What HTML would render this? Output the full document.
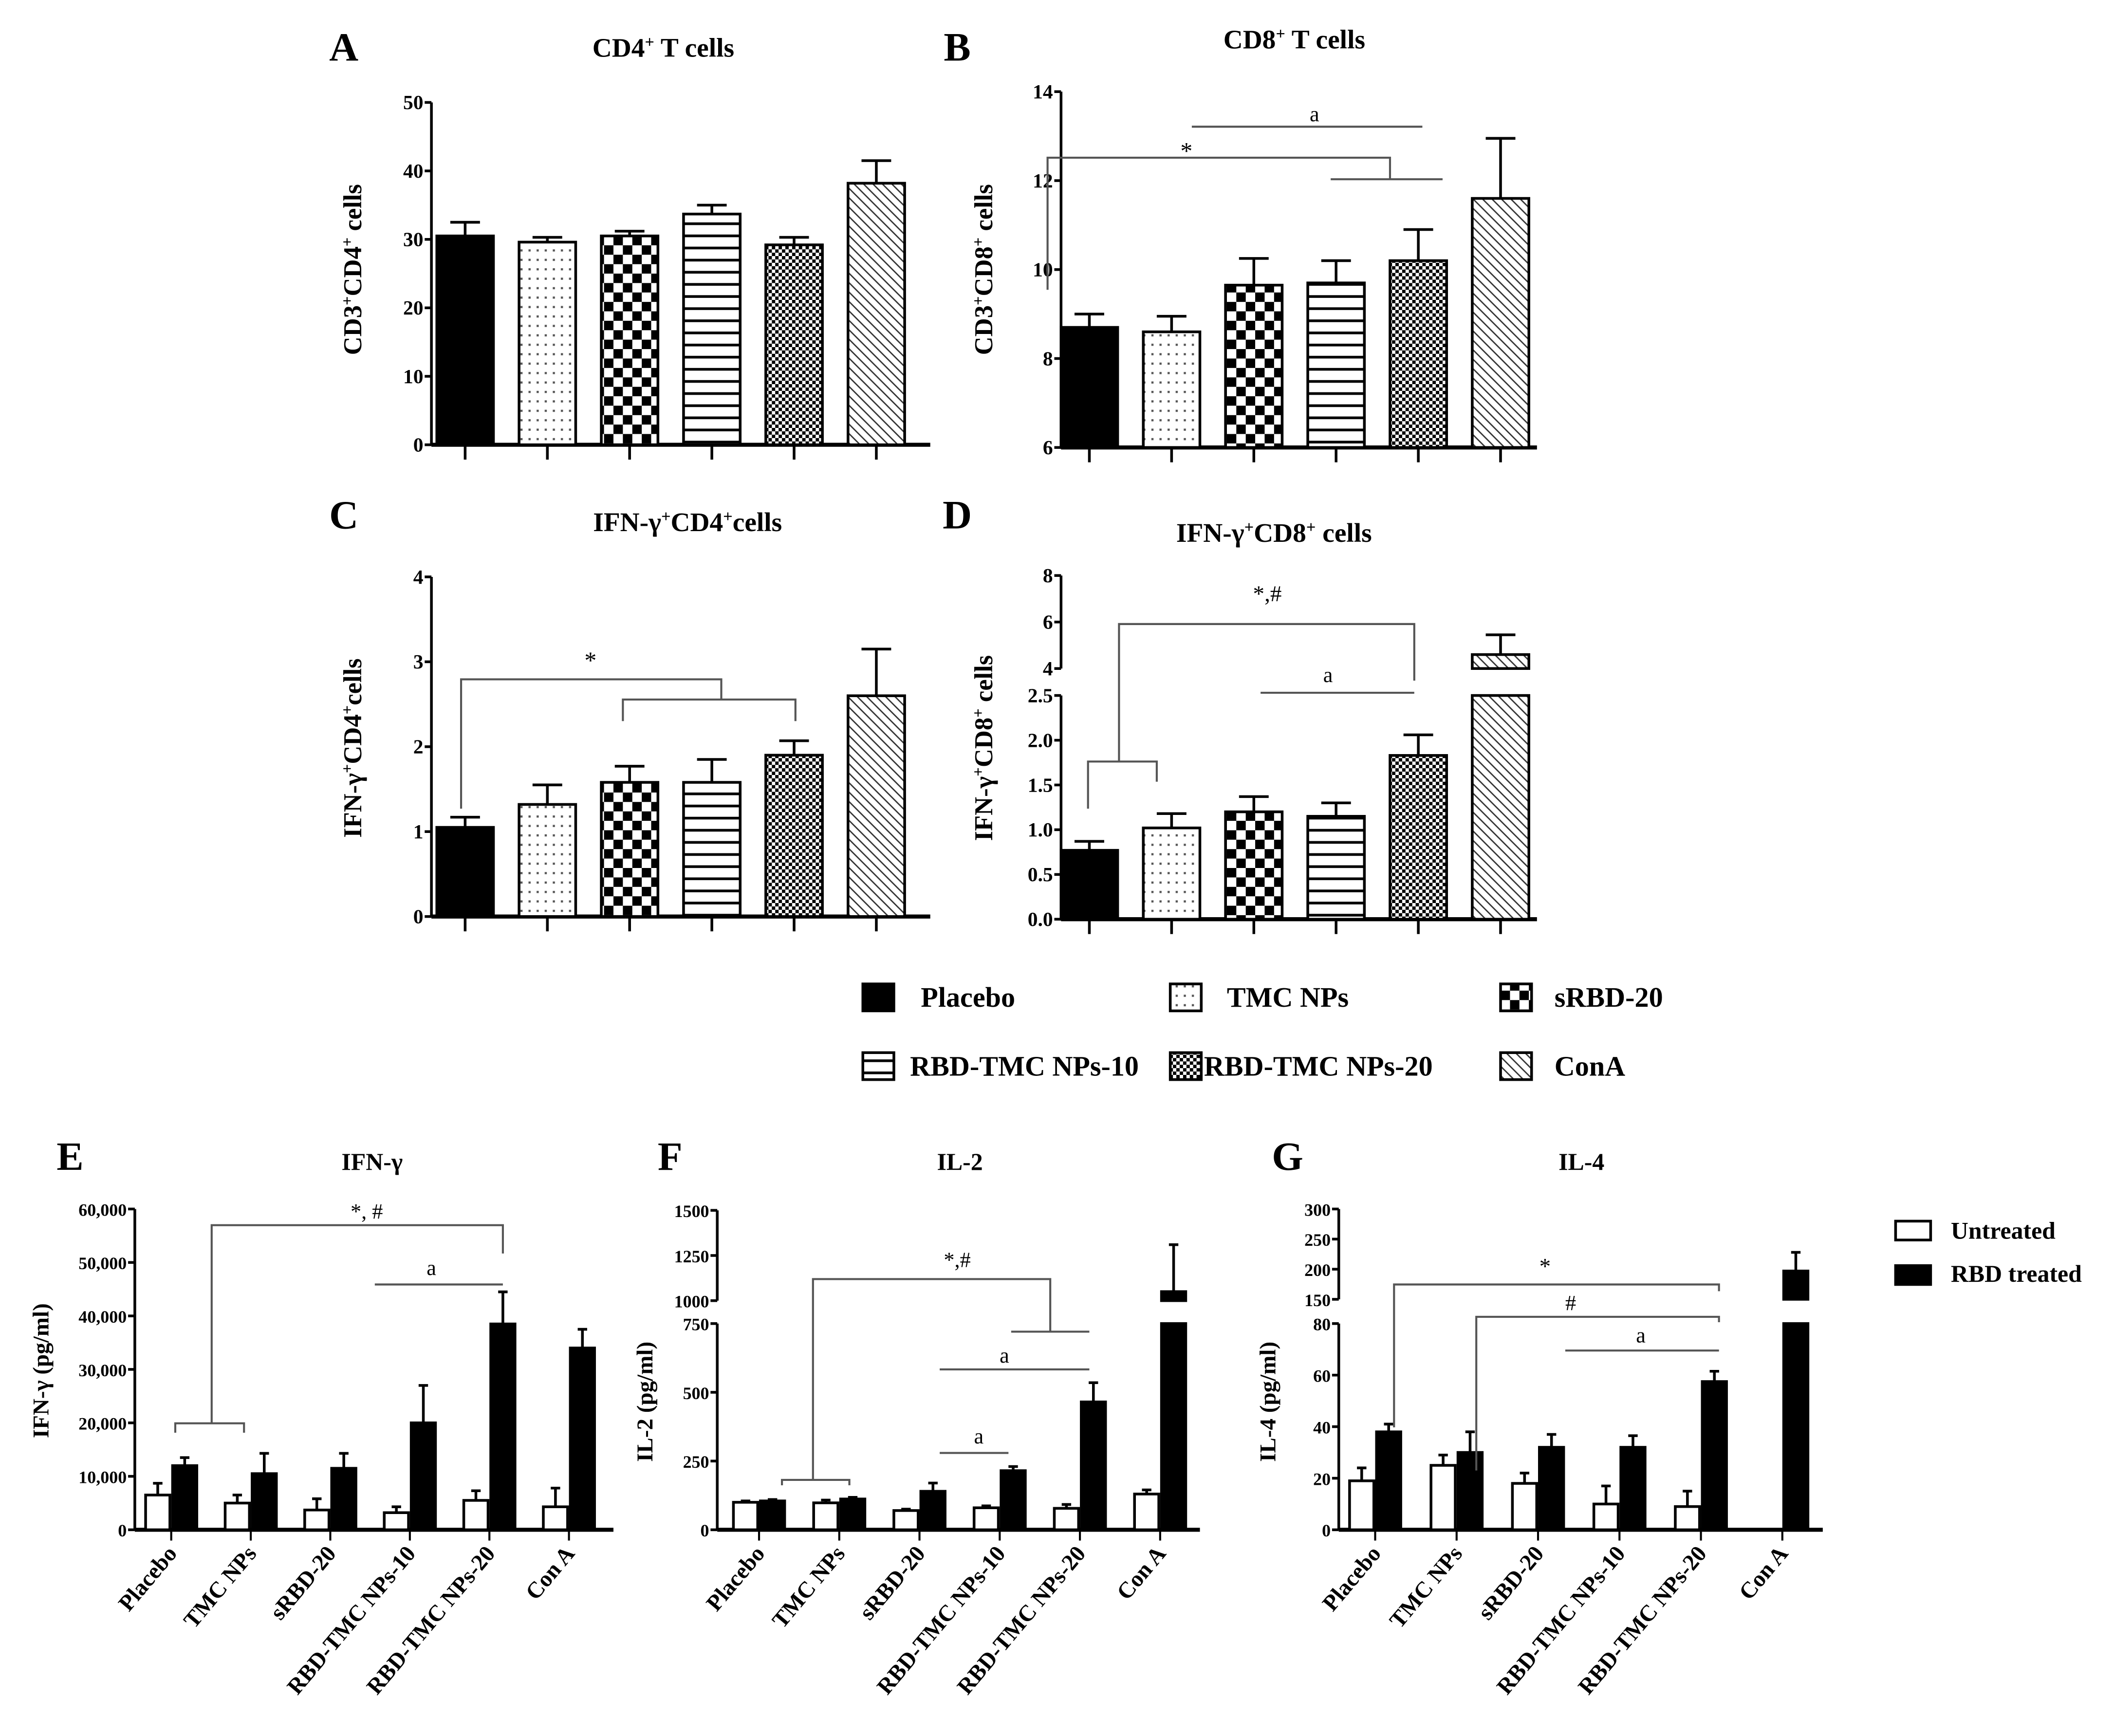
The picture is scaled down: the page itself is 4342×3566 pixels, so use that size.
<!DOCTYPE html>
<html><head><meta charset="utf-8"><style>
html,body{margin:0;padding:0;background:#fff;}
svg{display:block;font-family:"Liberation Serif",serif;font-weight:bold;}
</style></head><body>
<svg id="fig" width="4342" height="3566" viewBox="0 0 1568 1288" preserveAspectRatio="none" xmlns="http://www.w3.org/2000/svg">
<defs>
<pattern id="dots" width="6" height="7" patternUnits="userSpaceOnUse"><rect width="6" height="7" fill="#fff"/><rect x="2" y="3" width="1.6" height="1.6" fill="#555"/></pattern>
<pattern id="chk" width="14" height="14" patternUnits="userSpaceOnUse"><rect width="14" height="14" fill="#fff"/><rect width="7" height="7" fill="#000"/><rect x="7" y="7" width="7" height="7" fill="#000"/></pattern>
<pattern id="hl" width="8" height="9" patternUnits="userSpaceOnUse"><rect width="8" height="9" fill="#fff"/><rect y="3" width="8" height="2" fill="#000"/></pattern>
<pattern id="fchk" width="5" height="5" patternUnits="userSpaceOnUse"><rect width="5" height="5" fill="#fff"/><rect width="2.5" height="2.5" fill="#000"/><rect x="2.5" y="2.5" width="2.5" height="2.5" fill="#000"/></pattern>
<pattern id="diag" width="7" height="7" patternUnits="userSpaceOnUse"><rect width="7" height="7" fill="#fff"/><path d="M-1,-1 L8,8 M-1,6 L1,8 M6,-1 L8,1" stroke="#333" stroke-width="1"/></pattern>
</defs>
<g id="root"></g>
</svg>
<script>
// ---- data ----
const categories = ["Placebo","TMC NPs","sRBD-20","RBD-TMC NPs-10","RBD-TMC NPs-20","ConA"];
const xLabels = ["Placebo","TMC NPs","sRBD-20","RBD-TMC NPs-10","RBD-TMC NPs-20","Con A"];
const cd4Vals = [30.5,29.6,30.5,33.7,29.2,38.2];
const cd4Errs = [32.5,30.3,31.2,35.0,30.3,41.5];
const cd8Vals = [8.7,8.6,9.65,9.7,10.2,11.6];
const cd8Errs = [9.0,8.95,10.25,10.2,10.9,12.95];
const ifnCd4Vals = [1.05,1.32,1.58,1.58,1.9,2.6];
const ifnCd4Errs = [1.17,1.55,1.77,1.85,2.07,3.15];
const ifnCd8Vals = [0.77,1.02,1.2,1.15,1.83,4.6];
const ifnCd8Errs = [0.87,1.18,1.37,1.3,2.06,5.45];
const ifngUntreated = [6500,5000,3700,3200,5500,4300];
const ifngUntreatedErr = [8700,6500,5800,4300,7300,7800];
const ifngTreated = [12000,10500,11500,20000,38500,34000];
const ifngTreatedErr = [13500,14300,14300,27000,44500,37500];
const il2Untreated = [100,98,70,80,78,130];
const il2UntreatedErr = [105,108,75,87,92,145];
const il2Treated = [105,112,140,215,465,1050];
const il2TreatedErr = [110,118,170,230,535,1310];
const il4Untreated = [19,25,18,10,9,0];
const il4UntreatedErr = [24,29,22,17,15,0];
const il4Treated = [38,30,32,32,57.5,197];
const il4TreatedErr = [41,38,37,36.5,61.5,228];
const ticksA = [0,10,20,30,40,50];
const ticksB = [6,8,10,12,14];
const ticksC = [0,1,2,3,4];
const ticksDLow = ["0.0","0.5","1.0","1.5","2.0","2.5"];
const ticksDHigh = [4,6,8];
const ticksE = ["0","10,000","20,000","30,000","40,000","50,000","60,000"];
const ticksFLow = [0,250,500,750];
const ticksFHigh = [1000,1250,1500];
const ticksGLow = [0,20,40,60,80];
const ticksGHigh = [150,200,250,300];

const NS="http://www.w3.org/2000/svg";
const root=document.getElementById('root');
const fills=['#000','url(#dots)','url(#chk)','url(#hl)','url(#fchk)','url(#diag)'];
function mk(tag,attrs,parent){const e=document.createElementNS(NS,tag);for(const k in attrs)e.setAttribute(k,attrs[k]);(parent||root).appendChild(e);return e;}
function txt(x,y,s,size,anchor,parent,extra){const t=mk('text',Object.assign({x:x,y:y,'font-size':size,'text-anchor':anchor||'middle'},extra||{}),parent);t.textContent=s;return t;}
function rich(x,y,parts,size,parent,rot){
  const t=mk('text',{x:x,y:y,'font-size':size,'text-anchor':'middle'},parent);
  if(rot)t.setAttribute('transform','rotate(-90 '+x+' '+y+')');
  parts.forEach(p=>{const s=mk('tspan',p[1]?{'baseline-shift':'super','font-size':size*0.62}:{},t);s.textContent=p[0];});
  return t;
}
function makeScale(segs){return function(v){for(let i=0;i<segs.length;i++){const s=segs[i];if(v<=s.v1||i==segs.length-1){const vv=Math.max(v,s.v0);return s.y0+(vv-s.v0)*(s.y1-s.y0)/(s.v1-s.v0);}}}}
function drawAxis(g,ax,segs,tickSets,xEnd,y,fs){
  segs.forEach((s,i)=>{
    const l=mk('line',{x1:ax,x2:ax,y1:s.y0,y2:s.y1,stroke:'#000','stroke-width':2},g);
    
    
    tickSets[i].forEach(tv=>{
      const v=parseFloat(String(tv).replace(/,/g,''));const yy=y(v);
      mk('line',{x1:ax-5,x2:ax,y1:yy,y2:yy,stroke:'#000','stroke-width':2},g);
      const t=txt(ax-6,yy+5,String(tv),fs,'end',g,{'font-size':fs});
      
      
    });
  });
  const xl=mk('line',{x1:ax,x2:xEnd,y1:segs[0].y0,y2:segs[0].y0,stroke:'#000','stroke-width':3},g);
  
  
}
function barPieces(g,cx,w,segs,y,v,fill,name){
  segs.forEach(s=>{
    if(v>s.v0){const top=y(Math.min(v,s.v1));const bot=s.y0;
      const r=mk('rect',{x:cx-w/2,y:top,width:w,height:bot-top,fill:fill,stroke:'#000','stroke-width':2},g);
      
      }
  });
}
function errBar(g,cx,y,v,e,cap){if(e<=v)return;const y1=y(v),y2=y(e);mk('line',{x1:cx,x2:cx,y1:y1,y2:y2,stroke:'#000','stroke-width':2},g);mk('line',{x1:cx-cap/2,x2:cx+cap/2,y1:y2,y2:y2,stroke:'#000','stroke-width':2},g);}
function poly(g,pts){mk('polyline',{points:pts,fill:'none',stroke:'#555','stroke-width':1.5},g);}

function singlePanel(name,ax,xEnd,c0,segs,tickSets,vals,errs){
  const g=mk('g',{});
  const y=makeScale(segs);
  drawAxis(g,ax,segs,tickSets,xEnd,y,15);
  vals.forEach((v,i)=>{const cx=c0+i*61;
    barPieces(g,cx,42,segs,y,v,fills[i],'bar-'+categories[i].toLowerCase().replace(/ /g,'-'));
    errBar(g,cx,y,v,errs[i],22);
    mk('line',{x1:cx,x2:cx,y1:segs[0].y0,y2:segs[0].y0+11,stroke:'#000','stroke-width':2},g);
  });
  return g;
}
function groupPanel(name,ax,xEnd,c0,step,segs,tickSets,u,ue,t,te){
  const g=mk('g',{});
  const y=makeScale(segs);
  drawAxis(g,ax,segs,tickSets,xEnd,y,13);
  u.forEach((v,i)=>{const cx=c0+i*step;
    if(v>0){barPieces(g,cx-10,18,segs,y,v,'#fff','bar-untreated');errBar(g,cx-10,y,v,ue[i],7);}
    barPieces(g,cx+10,18,segs,y,t[i],'#000','bar-rbd-treated');errBar(g,cx+10,y,t[i],te[i],7);
    mk('line',{x1:cx,x2:cx,y1:segs[0].y0,y2:segs[0].y0+8,stroke:'#000','stroke-width':1.5},g);
    const lx=cx+5,ly=segs[0].y0+18;
    const lab=txt(lx,ly,xLabels[i],17,'end',g,{transform:'rotate(-50 '+lx+' '+ly+')'});
    
    
  });
  return g;
}

// Panel A
let g=singlePanel('panel-a',320,690,345,[{v0:0,v1:50,y0:330,y1:76}],[ticksA],cd4Vals,cd4Errs);
txt(255,45,'A',30,'middle',g);rich(492,42,[['CD4',0],['+',1],[' T cells',0]],20,g);
rich(268,200,[['CD3',0],['+',1],['CD4',0],['+',1],[' cells',0]],19,g,true);
// Panel B
g=singlePanel('panel-b',787,1140,808,[{v0:6,v1:14,y0:332,y1:68}],[ticksB],cd8Vals,cd8Errs);
txt(710,45,'B',30,'middle',g);rich(960,36,[['CD8',0],['+',1],[' T cells',0]],20,g);
rich(736,200,[['CD3',0],['+',1],['CD8',0],['+',1],[' cells',0]],19,g,true);
poly(g,'884,94 1055,94');txt(975,90,'a',16,'middle',g,{'font-weight':'normal'});
poly(g,'777,215 777,117 1031,117 1031,133');poly(g,'987,133 1070,133');txt(880,118,'*',18,'middle',g,{'font-weight':'normal'});
// Panel C
g=singlePanel('panel-c',320,690,345,[{v0:0,v1:4,y0:680,y1:428}],[ticksC],ifnCd4Vals,ifnCd4Errs);
txt(255,392,'C',30,'middle',g);rich(510,394,[['IFN-γ',0],['+',1],['CD4',0],['+',1],['cells',0]],20,g);
rich(268,555,[['IFN-γ',0],['+',1],['CD4',0],['+',1],['cells',0]],19,g,true);
poly(g,'342,600 342,504 535,504 535,519');poly(g,'462,535 462,519 590,519 590,535');txt(438,496,'*',18,'middle',g,{'font-weight':'normal'});
// Panel D
g=singlePanel('panel-d',787,1140,808,[{v0:0,v1:2.5,y0:682,y1:516},{v0:4,v1:8,y0:496,y1:427}],[ticksDLow,ticksDHigh],ifnCd8Vals,ifnCd8Errs);
txt(710,392,'D',30,'middle',g);rich(945,402,[['IFN-γ',0],['+',1],['CD8',0],['+',1],[' cells',0]],20,g);
rich(736,555,[['IFN-γ',0],['+',1],['CD8',0],['+',1],[' cells',0]],19,g,true);
poly(g,'807,600 807,565 858,565 858,580');poly(g,'830,565 830,463 1049,463 1049,505');txt(940,446,'*,#',17,'middle',g,{'font-weight':'normal'});
poly(g,'935,514 1049,514');txt(985,506,'a',16,'middle',g,{'font-weight':'normal'});

// Legend
const lg=mk('g',{});
const legPos=[[640,740],[868,740],[1113,740],[640,791],[868,791],[1113,791]];
const legTx=[683,910,1153,675,893,1153];
categories.forEach((c,i)=>{
  const e=mk('g',{},lg);
  
  
  mk('rect',{x:legPos[i][0],y:legPos[i][1]-10,width:23,height:20,fill:fills[i],stroke:'#000','stroke-width':2},e);
  txt(legTx[i],legPos[i][1]+7,c,21,'start',e);
});

// Panel E
g=groupPanel('panel-e',100,455,127,59,[{v0:0,v1:60000,y0:1135,y1:897}],[ticksE],ifngUntreated,ifngUntreatedErr,ifngTreated,ifngTreatedErr);
txt(52,868,'E',30,'middle',g);txt(276,868,'IFN-γ',18,'middle',g);
txt(36,1017,'IFN-γ (pg/ml)',17,'middle',g,{transform:'rotate(-90 36 1017)'});
poly(g,'130,1063 130,1056 181,1056 181,1063');poly(g,'157,1056 157,909 373,909 373,930');txt(272,904,'*, #',16,'middle',g,{'font-weight':'normal'});
poly(g,'278,953 373,953');txt(320,946,'a',16,'middle',g,{'font-weight':'normal'});
// Panel F
g=groupPanel('panel-f',532,890,563,59.5,[{v0:0,v1:750,y0:1135,y1:982},{v0:1000,v1:1500,y0:965,y1:898}],[ticksFLow,ticksFHigh],il2Untreated,il2UntreatedErr,il2Treated,il2TreatedErr);
txt(497,868,'F',30,'middle',g);txt(712,868,'IL-2',18,'middle',g);
txt(484,1040,'IL-2 (pg/ml)',17,'middle',g,{transform:'rotate(-90 484 1040)'});
poly(g,'580,1102 580,1098 630,1098 630,1102');poly(g,'603,1098 603,949 779,949 779,988');poly(g,'750,988 808,988');txt(710,940,'*,#',16,'middle',g,{'font-weight':'normal'});
poly(g,'697,1016 808,1016');txt(745,1011,'a',16,'middle',g,{'font-weight':'normal'});
poly(g,'697,1078 748,1078');txt(726,1071,'a',16,'middle',g,{'font-weight':'normal'});
// Panel G
g=groupPanel('panel-g',993,1352,1020,60.4,[{v0:0,v1:80,y0:1135,y1:982},{v0:150,v1:300,y0:964,y1:897}],[ticksGLow,ticksGHigh],il4Untreated,il4UntreatedErr,il4Treated,il4TreatedErr);
txt(955,868,'G',30,'middle',g);txt(1173,868,'IL-4',18,'middle',g);
txt(946,1040,'IL-4 (pg/ml)',17,'middle',g,{transform:'rotate(-90 946 1040)'});
poly(g,'1034,1059 1034,953 1275,953 1275,958');txt(1146,945,'*',17,'middle',g,{'font-weight':'normal'});
poly(g,'1095,1091 1095,977 1275,977 1275,981');txt(1165,972,'#',16,'middle',g,{'font-weight':'normal'});
poly(g,'1161,1002 1275,1002');txt(1217,996,'a',16,'middle',g,{'font-weight':'normal'});

// right legend
const rl=mk('g',{});
const e1=mk('g',{},rl);
mk('rect',{x:1406,y:906,width:26,height:14,fill:'#fff',stroke:'#000','stroke-width':2},e1);txt(1447,919,'Untreated',18,'start',e1);
const e2=mk('g',{},rl);
mk('rect',{x:1406,y:939,width:26,height:14,fill:'#000',stroke:'#000','stroke-width':2},e2);txt(1447,951,'RBD treated',18,'start',e2);
</script>
</body></html>
